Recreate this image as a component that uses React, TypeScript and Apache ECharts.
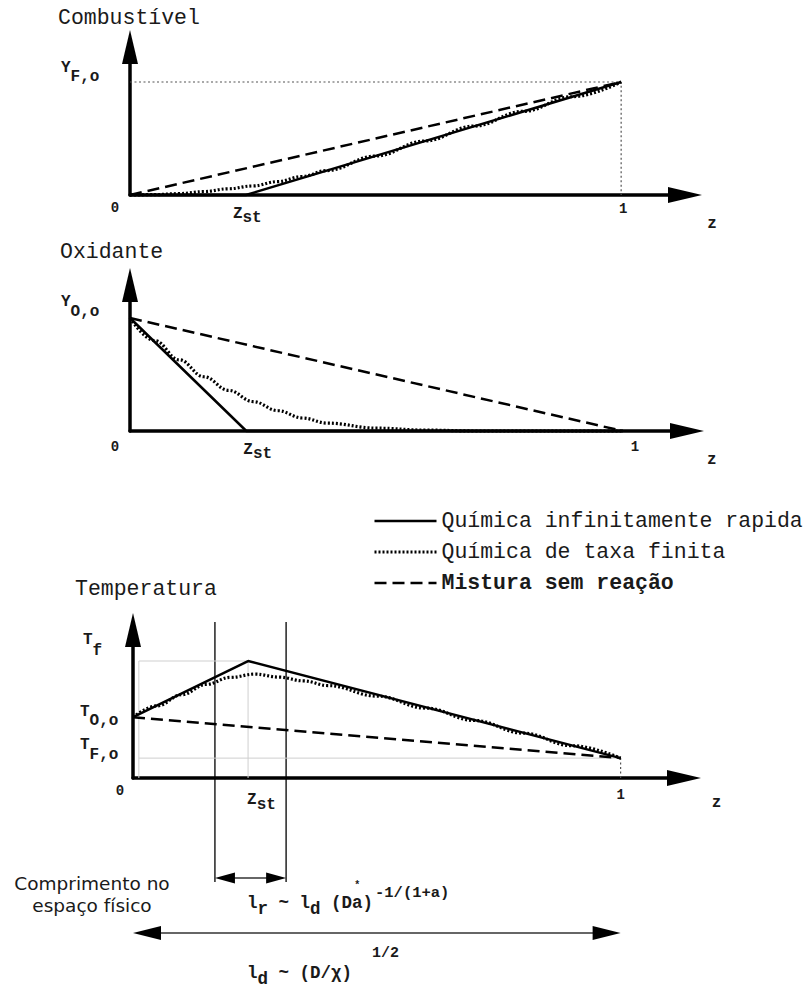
import React, { useEffect, useRef } from "react";
import * as echarts from "echarts";

// Stoichiometric mixture fraction and the edges of the reaction zone
const Z_ST = 0.236;
const Z_REACT_LO = 0.168;
const Z_REACT_HI = 0.314;

// Boundary temperatures (normalised by the flame temperature)
const T_OX = 0.52;
const T_FUEL = 0.17;
const T_FLAME = 1;

const LEGEND = [
  "Química infinitamente rapida",
  "Química de taxa finita",
  "Mistura sem reação",
];

// Infinitely fast chemistry (Burke–Schumann)
const fastZ = [0, Z_ST, 1];
const fuelFast = [0, 0, 1];
const oxFast = [1, 0, 0];
const tempFast = [T_OX, T_FLAME, T_FUEL];

// Pure mixing, no reaction
const mixZ = [0, 1];
const fuelMix = [0, 1];
const oxMix = [1, 0];
const tempMix = [T_OX, T_FUEL];

// Finite-rate chemistry
const finiteZ = [0, 0.05, 0.1, 0.15, 0.2, 0.25, 0.3, 0.35, 0.4, 0.5, 0.6, 0.7, 0.8, 0.9, 1];
const fuelFinite = [0, 0.003, 0.012, 0.03, 0.055, 0.08, 0.118, 0.163, 0.216, 0.345, 0.478, 0.61, 0.74, 0.87, 1];
const oxFinite = [1, 0.8, 0.63, 0.48, 0.36, 0.26, 0.18, 0.115, 0.07, 0.025, 0.008, 0, 0, 0, 0];
const tempFinite = [0.52, 0.617, 0.712, 0.8, 0.86, 0.888, 0.862, 0.83, 0.79, 0.7, 0.598, 0.492, 0.384, 0.276, 0.17];

const X_MAX = 1.13;
const PANELS = [
  { left: 130, top: 47, width: 555, height: 148, yMax: 1.31 },
  { left: 130, top: 285, width: 557, height: 146, yMax: 1.292 },
  { left: 133, top: 630, width: 551, height: 148, yMax: 1.265 },
];

const MONO = '"Liberation Mono", "Courier New", monospace';
const INK = "#1a1a1a";

const pairs = (xs: number[], ys: number[]) => xs.map((x, i) => [x, ys[i]]);

const SOLID = { color: "#000", width: 2.5, type: "solid" as const };
const DOTTED = { color: "#000", width: 3.2, type: [2, 2] };
const DASHED = { color: "#000", width: 2.5, type: [12, 6] };
const GUIDE = { color: "#555", width: 1.2, type: [2, 2.5] };
const FAINT = { color: "#cfcfcf", width: 1, type: "solid" as const };

function lineSeries(name: string, gi: number, data: number[][], lineStyle: any, smooth: any = false) {
  return {
    type: "line",
    name,
    xAxisIndex: gi,
    yAxisIndex: gi,
    data,
    symbol: "none",
    smooth,
    smoothMonotone: "x",
    silent: true,
    clip: false,
    lineStyle,
  };
}

type Part = [string, number, number?, string?];

// Lays out a run of monospace text pieces (sub/superscripts via dy)
function seq(x: number, y: number, parts: Part[]) {
  const out: any[] = [];
  let cx = x;
  for (const [t, size, dy = 0, weight = "bold"] of parts) {
    out.push({
      type: "text",
      x: cx,
      y: y + dy,
      silent: true,
      style: {
        text: t,
        font: `${weight} ${size}px ${MONO}`,
        fill: INK,
        align: "left",
        verticalAlign: "middle",
      },
    });
    cx += t.length * 0.6 * size;
  }
  return out;
}

function label(x: number, y: number, text: string, font: string, align = "left") {
  return {
    type: "text",
    x,
    y,
    silent: true,
    style: { text, font, fill: INK, align, verticalAlign: "middle" },
  };
}

function arrowHead(tipX: number, y: number, dir: number, len: number, half: number) {
  return {
    type: "polygon",
    silent: true,
    shape: { points: [[tipX, y], [tipX - dir * len, y - half], [tipX - dir * len, y + half]] },
    style: { fill: "#000" },
  };
}

function vline(x: number, y1: number, y2: number, stroke = "#222", w = 1.5) {
  return {
    type: "line",
    silent: true,
    shape: { x1: x, y1, x2: x, y2 },
    style: { stroke, lineWidth: w },
  };
}

function hline(x1: number, x2: number, y: number, stroke = "#222", w = 1.5) {
  return {
    type: "line",
    silent: true,
    shape: { x1, y1: y, x2, y2: y },
    style: { stroke, lineWidth: w },
  };
}

export default function App() {
  const ref = useRef<HTMLDivElement>(null);

  useEffect(() => {
    if (!ref.current) return;
    document.body.style.margin = "0";
    const chart = echarts.init(ref.current, undefined, { renderer: "svg" });

    const axisLine = {
      show: true,
      onZero: false,
      symbol: ["none", "triangle"],
      symbolSize: [16, 34],
      lineStyle: { color: "#000", width: 3.5 },
    };

    const series: any[] = [
      // fuel
      lineSeries("guideF", 0, [[0, 1], [1, 1], [1, 0]], GUIDE),
      lineSeries(LEGEND[2], 0, pairs(mixZ, fuelMix), DASHED),
      lineSeries(LEGEND[1], 0, pairs(finiteZ, fuelFinite), DOTTED, 0.4),
      lineSeries(LEGEND[0], 0, pairs(fastZ, fuelFast), SOLID),
      // oxidiser
      lineSeries(LEGEND[2], 1, pairs(mixZ, oxMix), DASHED),
      lineSeries(LEGEND[1], 1, pairs(finiteZ, oxFinite), DOTTED, 0.4),
      lineSeries(LEGEND[0], 1, pairs(fastZ, oxFast), SOLID),
      // temperature
      lineSeries("guideT1", 2, [[0.012, 0], [0.012, T_FLAME], [Z_ST, T_FLAME], [Z_ST, 0]], FAINT),
      lineSeries("guideT2", 2, [[0.012, T_FUEL], [1, T_FUEL]], FAINT),
      lineSeries("guideT3", 2, [[1, T_FUEL], [1, 0]], GUIDE),
      lineSeries(LEGEND[2], 2, pairs(mixZ, tempMix), DASHED),
      lineSeries(LEGEND[1], 2, pairs(finiteZ, tempFinite), DOTTED, 0.4),
      lineSeries(LEGEND[0], 2, pairs(fastZ, tempFast), SOLID),
    ];

    chart.setOption({
      animation: false,
      backgroundColor: "#fff",
      grid: PANELS.map((p) => ({ left: p.left, top: p.top, width: p.width, height: p.height })),
      xAxis: PANELS.map((_, i) => ({
        gridIndex: i,
        type: "value",
        min: 0,
        max: X_MAX,
        axisLine,
        axisTick: { show: false },
        axisLabel: { show: false },
        splitLine: { show: false },
      })),
      yAxis: PANELS.map((p, i) => ({
        gridIndex: i,
        type: "value",
        min: 0,
        max: p.yMax,
        axisLine,
        axisTick: { show: false },
        axisLabel: { show: false },
        splitLine: { show: false },
      })),
      legend: {
        orient: "vertical",
        left: 368,
        top: 505,
        itemWidth: 62,
        itemHeight: 14,
        itemGap: 9,
        selectedMode: false,
        itemStyle: { opacity: 0 },
        lineStyle: { width: 2.5 },
        textStyle: { fontFamily: MONO, fontSize: 21.5, color: INK },
        data: [
          { name: LEGEND[0] },
          { name: LEGEND[1], lineStyle: { width: 3 } },
          { name: LEGEND[2], textStyle: { fontWeight: "bold" } },
        ],
      },
      series,
    });

    const px = (gi: number, z: number, v: number) =>
      chart.convertToPixel({ gridIndex: gi }, [z, v]) as number[];

    const g: any[] = [];
    const TITLE = `normal 21.5px ${MONO}`;
    const NUM = `bold 14px ${MONO}`;

    // Fuel panel
    {
      const o = px(0, 0, 0);
      const one = px(0, 1, 0);
      const top = px(0, 0, 1);
      const zs = px(0, Z_ST, 0);
      g.push(label(58, 18, "Combustível", TITLE));
      g.push(...seq(o[0] - 69, top[1] - 14, [["Y", 16], ["F,o", 16, 9]]));
      g.push(label(o[0] - 15, o[1] + 13, "0", NUM, "center"));
      g.push(...seq(zs[0] - 13, o[1] + 19, [["Z", 16], ["st", 16, 4]]));
      g.push(label(one[0] + 2, o[1] + 14, "1", NUM, "center"));
      g.push(label(one[0] + 91, o[1] + 29, "z", `bold 16px ${MONO}`, "center"));
    }
    // Oxidiser panel
    {
      const o = px(1, 0, 0);
      const one = px(1, 1, 0);
      const top = px(1, 0, 1);
      const zs = px(1, Z_ST, 0);
      g.push(label(60, 252, "Oxidante", TITLE));
      g.push(...seq(o[0] - 69, top[1] - 16, [["Y", 16], ["O,o", 16, 10]]));
      g.push(label(o[0] - 15, o[1] + 16, "0", NUM, "center"));
      g.push(...seq(zs[0] - 3, o[1] + 19, [["Z", 16], ["st", 16, 4]]));
      g.push(label(one[0] + 12, o[1] + 16, "1", NUM, "center"));
      g.push(label(one[0] + 89, o[1] + 29, "z", `bold 16px ${MONO}`, "center"));
    }
    // Temperature panel
    {
      const o = px(2, 0, 0);
      const one = px(2, 1, 0);
      const tf = px(2, 0, T_FLAME);
      const tox = px(2, 0, T_OX);
      const tfu = px(2, 0, T_FUEL);
      const zs = px(2, Z_ST, 0);
      const lo = px(2, Z_REACT_LO, 0);
      const hi = px(2, Z_REACT_HI, 0);
      g.push(label(75, 589, "Temperatura", TITLE));
      g.push(...seq(o[0] - 50, tf[1] - 21, [["T", 16], ["f", 16, 11]]));
      g.push(...seq(o[0] - 53, tox[1] - 5, [["T", 16], ["O,o", 16, 9]]));
      g.push(...seq(o[0] - 53, tfu[1] - 13, [["T", 16], ["F,o", 16, 10]]));
      g.push(label(o[0] - 13, o[1] + 13, "0", NUM, "center"));
      g.push(...seq(zs[0] - 1, o[1] + 22, [["Z", 16], ["st", 16, 5]]));
      g.push(label(one[0], o[1] + 17, "1", NUM, "center"));
      g.push(label(one[0] + 96, o[1] + 25, "z", `bold 16px ${MONO}`, "center"));

      // reaction zone boundaries and its width
      g.push(vline(lo[0], o[1] - 156, o[1] + 104));
      g.push(vline(hi[0], o[1] - 156, o[1] + 104));
      const ya = o[1] + 100;
      g.push(hline(lo[0] + 15, hi[0] - 15, ya, "#333", 1.5));
      g.push(arrowHead(lo[0], ya, -1, 20, 5.5));
      g.push(arrowHead(hi[0], ya, 1, 20, 5.5));

      const FS = 17.5;
      const CW = 0.6 * FS;
      g.push(
        ...seq(247, 903, [
          ["l", FS],
          ["r", FS, 6],
          [" ~ ", FS],
          ["l", FS],
          ["d", FS, 6],
          [" (Da)", FS],
        ])
      );
      // star over the "a" of Da
      g.push(label(247 + 10.5 * CW, 885, "*", `bold 10px ${MONO}`, "center"));
      g.push(...seq(247 + 12 * CW + 2, 893, [["-1/(1+a)", 15.5]]));

      // diffusion length spanning the whole mixture-fraction range
      const yb = o[1] + 155;
      g.push(hline(o[0] + 20, one[0] - 20, yb, "#333", 1.5));
      g.push(arrowHead(o[0], yb, -1, 28, 7));
      g.push(arrowHead(one[0], yb, 1, 28, 7));
      g.push(
        ...seq(247, 973, [
          ["l", FS],
          ["d", FS, 6],
          [" ~ (D/χ)", FS],
        ])
      );
      g.push(...seq(247 + 10 * CW + 20, 953, [["1/2", 15]]));

      const SANS = `normal 18.5px "DejaVu Sans", sans-serif`;
      g.push(label(92, 883, "Comprimento no", SANS, "center"));
      g.push(label(92, 905, "espaço físico", SANS, "center"));
    }

    chart.setOption({ graphic: g });

    return () => chart.dispose();
  }, []);

  return (
    <div
      ref={ref}
      style={{ position: "absolute", left: 0, top: 0, width: 811, height: 988, background: "#fff" }}
    />
  );
}
